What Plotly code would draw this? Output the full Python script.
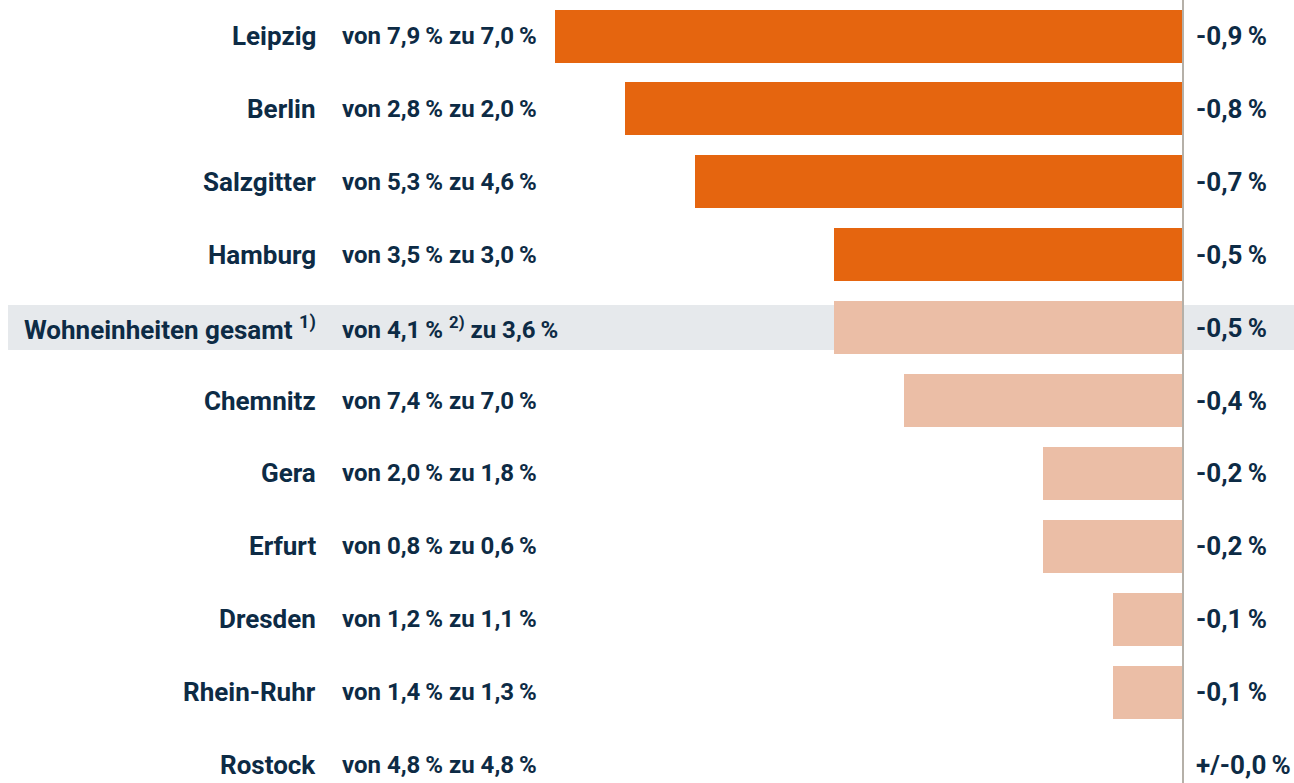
import plotly.graph_objects as go

cities = ["Leipzig", "Berlin", "Salzgitter", "Hamburg", "Wohneinheiten gesamt", "Chemnitz",
          "Gera", "Erfurt", "Dresden", "Rhein-Ruhr", "Rostock"]
city_notes = ["", "", "", "", "1)", "", "", "", "", "", ""]
changes = [-0.9, -0.8, -0.7, -0.5, -0.5, -0.4, -0.2, -0.2, -0.1, -0.1, 0.0]
from_vals = ["7,9", "2,8", "5,3", "3,5", "4,1", "7,4", "2,0", "0,8", "1,2", "1,4", "4,8"]
from_notes = ["", "", "", "", "2)", "", "", "", "", "", ""]
to_vals = ["7,0", "2,0", "4,6", "3,0", "3,6", "7,0", "1,8", "0,6", "1,1", "1,3", "4,8"]
change_labels = ["-0,9 %", "-0,8 %", "-0,7 %", "-0,5 %", "-0,5 %", "-0,4 %", "-0,2 %", "-0,2 %",
                 "-0,1 %", "-0,1 %", "+/-0,0 %"]

W, H = 1294, 783
ORANGE = "#E5650F"
LIGHT = "#EBBEA6"
TXT = "#0d2b45"
FONT = "Roboto, sans-serif"
TS = "\u2009"

colors = [ORANGE if i < 4 else LIGHT for i in range(len(cities))]
ys = list(range(len(cities)))

px_per_unit = 697.8
zero_px = 1183
row_h = 72.9
row0 = 36

fig = go.Figure()
fig.add_trace(go.Bar(x=changes, y=ys, orientation="h", marker=dict(color=colors, line=dict(width=0)),
                     width=0.727, hoverinfo="skip"))

xr = [-zero_px / px_per_unit, (W - zero_px) / px_per_unit]
yr = [(H - row0) / row_h, -row0 / row_h]

annotations = []
for i, c in enumerate(cities):
    ct = f"<b>{c}</b>" + (f"<b> <sup>{city_notes[i]}</sup></b>" if city_notes[i] else "")
    annotations.append(dict(x=318 / W, xref="paper", y=i, yref="y", text=ct, showarrow=False,
                            xanchor="right", yanchor="middle", font=dict(size=26, color=TXT, family=FONT)))
    fn = f" <sup>{from_notes[i]}</sup>" if from_notes[i] else ""
    vt = f"<b>von {from_vals[i]}{TS}%{fn} zu {to_vals[i]}{TS}%</b>"
    annotations.append(dict(x=340 / W, xref="paper", y=i, yref="y", text=vt, showarrow=False,
                            xanchor="left", yanchor="middle", font=dict(size=24, color=TXT, family=FONT)))
    lab = change_labels[i].replace(" %", TS + "%")
    annotations.append(dict(x=1194 / W, xref="paper", y=i, yref="y", text=f"<b>{lab}</b>",
                            showarrow=False, xanchor="left", yanchor="middle",
                            font=dict(size=26, color=TXT, family=FONT)))

shapes = [
    dict(type="rect", xref="paper", yref="y", x0=8 / W, x1=1, y0=4 - 22.5 / row_h, y1=4 + 22.5 / row_h,
         fillcolor="#e6e9ec", line=dict(width=0), layer="below"),
    dict(type="line", xref="x", yref="paper", x0=0, x1=0, y0=0, y1=1, line=dict(color="#b5b0a8", width=2)),
]

fig.update_layout(
    width=W, height=H, margin=dict(l=0, r=0, t=0, b=0),
    paper_bgcolor="white", plot_bgcolor="rgba(0,0,0,0)",
    xaxis=dict(range=xr, visible=False, showgrid=False, zeroline=False, fixedrange=True),
    yaxis=dict(range=yr, visible=False, showgrid=False, zeroline=False, fixedrange=True),
    showlegend=False, annotations=annotations, shapes=shapes, bargap=0, hovermode=False,
)
fig.write_html("out.html", config={"displayModeBar": False, "staticPlot": True},
               post_script="document.body.style.margin='0';document.body.style.overflow='hidden';")
